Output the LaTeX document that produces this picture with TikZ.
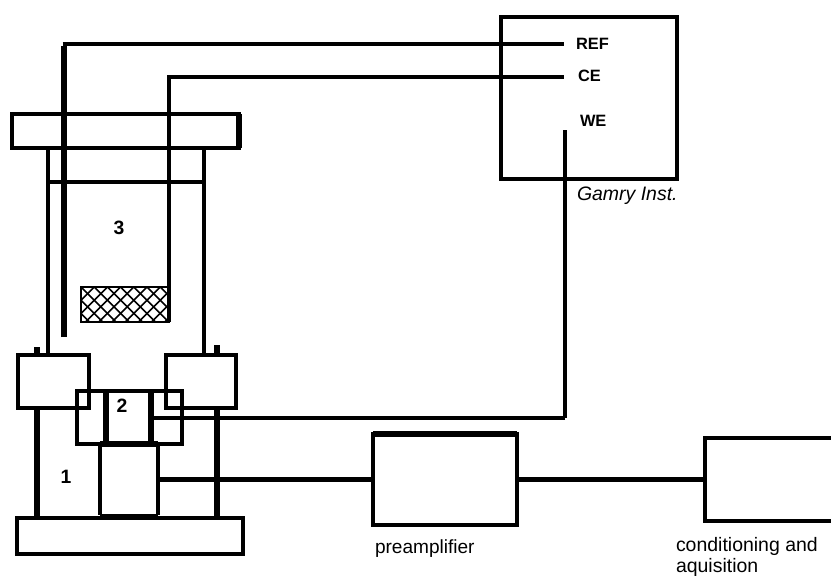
\documentclass[tikz,border=0pt]{standalone}
\usepackage{fontspec}
\setmainfont{Liberation Sans}
\newcommand{\bx}[6][]{%
  \pgfmathsetlengthmacro{\bxw}{(#5-#3)*0.75pt}%
  \pgfmathsetlengthmacro{\bxh}{(#6-#4)*0.75pt}%
  \node[boxnode,minimum width=\bxw,minimum height=\bxh,#1] (#2) at ({(#3+#5)/2},{(#4+#6)/2}) {};}
\tikzset{
  boxnode/.style={rectangle,inner sep=0pt,outer sep=0pt,draw=black,line width=2.6pt},
  wire/.style={draw=black,line width=2.7pt,line cap=butt,line join=miter},
  wirethin/.style={draw=black,line width=2.7pt,line cap=butt,line join=miter},
  wiremid/.style={draw=black,line width=3.2pt,line cap=butt,line join=miter},
  wirethick/.style={draw=black,line width=3.8pt,line cap=butt,line join=miter},
  big/.style={font=\fontsize{14.3}{16}\selectfont,inner sep=0pt,outer sep=0pt,anchor=base west},
  tag/.style={font=\bfseries\fontsize{12.3}{15}\selectfont,inner sep=0pt,outer sep=0pt,anchor=west},
  num/.style={font=\bfseries\fontsize{14.5}{15}\selectfont,inner sep=0pt,outer sep=0pt}
}
\begin{document}
\begin{tikzpicture}[x=0.75pt,y=-0.75pt]
\useasboundingbox (0,0) rectangle (831,575);
% flange and tube
\bx{flange}{12}{114}{239}{148}
\draw[wirethick] (flange.north east) -- (flange.south east);
\coordinate (tl) at (48,148); \coordinate (tr) at (204,148);
\coordinate (bl) at (48,355); \coordinate (br) at (204,355);
\draw[wirethin] (tl) -- (bl);
\draw[wire] (tr) -- (br);
\coordinate (ll) at (48,182); \coordinate (lr) at (204,182);
\draw[wirethin] (ll) -- (lr);
% mesh
\bx[line width=1.2pt]{mesh}{81}{287}{169}{322}
\begin{scope}
\clip (mesh.north west) rectangle (mesh.south east);
\foreach \k in {-4,...,14} {
  \draw[line width=1.2pt] ({81+\k*13.2},287) -- ++(35,35);
  \draw[line width=1.2pt] ({81+\k*13.2},287) -- ++(-35,35);
}
\end{scope}
% terminals
\node[tag] (ref) at (576,44) {REF};
\node[tag] (ce) at (578,75.5) {CE};
\node[tag] (we) at (580,121) {WE};
\coordinate (refbot) at (64,337);
\coordinate (refend) at (564,44);
\coordinate (cebot) at (169,322);
\coordinate (ceend) at (564,77);
\draw[wirethick] (refbot) -- (64,46);
\draw[wire] (62.5,44) -- (refend);
\draw[wire] (cebot) -- (169,77) -- (ceend);
% Gamry
\bx[line width=2.8pt]{gamry}{501}{17}{677}{179}
\node[big,font=\itshape\fontsize{14.6}{16}\selectfont] (gi) at (577,200) {Gamry Inst.};
% cell
\bx{blockl}{18}{355}{89}{408}
\bx{blockr}{166}{355}{236}{408}
\bx{center}{77}{391}{182}{444}
\draw[wirethick] (106,391) -- (106,444);
\draw[wirethick] (151,391) -- (151,444);
\coordinate (wetop) at (565,130);
\coordinate (wej) at (151,418);
\draw[wire] (wetop) -- (565,418);
\draw[wirethin] (565,418) -- (wej);
% ticks
\coordinate (t1a) at (37,347); \coordinate (t1b) at (37,355);
\coordinate (t2a) at (217,345); \coordinate (t2b) at (217,355);
\draw[wirethick] (t1a) -- (t1b);
\draw[wirethick] (t2a) -- (t2b);
% base, legs, sensor
\bx{base}{17}{518}{243}{554}
\draw[wirethick] (37,408) -- (37,518);
\draw[wirethick] (217,408) -- (217,518);
\bx[draw=none]{sensor}{100}{444}{158}{515}
\draw[wirethin] (sensor.north west) -- (sensor.south west);
\draw[wirethin] (sensor.north east) -- (sensor.south east);
\draw[wirethick] (sensor.north west) -- (sensor.north east);
\draw[wirethick] ([yshift=-1pt]sensor.south west) -- ([yshift=-1pt]sensor.south east);
% preamp and daq
\bx{preamp}{373}{434}{517}{525}
\draw[wirethick] (preamp.north west) -- (preamp.north east);
\bx[draw=none]{daq}{705}{438}{831}{521}
\draw[wire] (daq.north east) -- (daq.north west) -- (daq.south west) -- (daq.south east);
\coordinate (mid) at (612,479.5);
\draw[wirethick] (sensor.east) -- (preamp.west);
\draw[wiremid] (preamp.east) -- (mid);
\draw[wirethick] (mid) -- (daq.west);
% labels
\node[num] (n3) at (119,228) {3};
\node[num] (n2) at (122,406) {2};
\node[num] (n1) at (66,477) {1};
\node[big] (pa) at (375,553) {preamplifier};
\node[big,font=\fontsize{14.6}{16}\selectfont] (ca1) at (676,551) {conditioning and};
\node[big,font=\fontsize{14.6}{16}\selectfont] (ca2) at (676,572) {aquisition};
\end{tikzpicture}
\end{document}
